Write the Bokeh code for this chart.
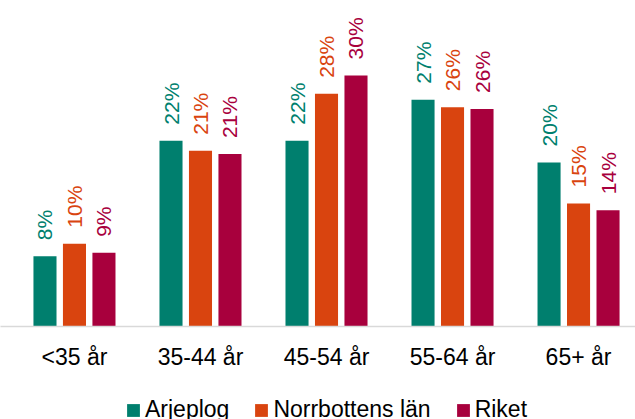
import numpy as np
from bokeh.plotting import figure
from bokeh.layouts import column
from bokeh.models import ColumnDataSource, FixedTicker, Legend, LegendItem, Range1d
from bokeh.core.properties import value
from bokeh.embed import file_html
from bokeh.resources import INLINE

categories = ["<35 år", "35-44 år", "45-54 år", "55-64 år", "65+ år"]
series = ["Arjeplog", "Norrbottens län", "Riket"]
arjeplog = [8.4, 22.2, 22.2, 27.1, 19.6]
norrbotten = [9.9, 21.0, 27.8, 26.2, 14.7]
riket = [8.8, 20.6, 30.0, 26.0, 13.9]
values_by_series = [arjeplog, norrbotten, riket]
colors = ["#007F6E", "#D9440F", "#A8003D"]

FONT = "Liberation Sans"

p = figure(width=635, height=372, output_backend="svg", toolbar_location=None,
           x_range=Range1d(-0.587, 4.452), y_range=Range1d(0, 38.95),
           y_axis_location=None,
           min_border_left=0, min_border_right=0, min_border_top=0,
           min_border_bottom=46)
p.outline_line_color = None
p.xgrid.grid_line_color = None
p.ygrid.grid_line_color = None
p.background_fill_color = "white"
p.border_fill_color = "white"

offset = 0.234
bar_w = 0.183
sources = []
for i, (name, vals, col) in enumerate(zip(series, values_by_series, colors)):
    xs = [j + (i - 1) * offset for j in range(len(categories))]
    src = ColumnDataSource(dict(x=xs, top=vals,
                                label=[f"{round(v)}%" for v in vals]))
    sources.append(src)
    p.vbar(x="x", top="top", width=bar_w, color=col, line_color=None, source=src)
    p.text(x="x", y="top", text="label", angle=np.pi / 2, text_align="left",
           text_baseline="middle", y_offset=-16, text_color=col,
           text_font=value(FONT), text_font_size="21px", source=src)

ax = p.xaxis[0]
ax.ticker = FixedTicker(ticks=list(range(len(categories))))
ax.major_label_overrides = {i: c for i, c in enumerate(categories)}
ax.major_label_text_font = FONT
ax.major_label_text_font_size = "23px"
ax.major_label_text_color = "black"
ax.major_tick_line_color = None
ax.minor_tick_line_color = None
ax.axis_line_color = "#D9D9D9"
ax.axis_line_width = 1.5
ax.major_label_standoff = 11

# legend strip (its bars reuse the series data but lie below its view)
pl = figure(width=635, height=47, output_backend="svg", toolbar_location=None,
            x_range=Range1d(-0.587, 4.452), y_range=Range1d(40, 41),
            x_axis_location=None, y_axis_location=None,
            min_border_left=0, min_border_right=0, min_border_top=0,
            min_border_bottom=0)
pl.outline_line_color = None
pl.xgrid.grid_line_color = None
pl.ygrid.grid_line_color = None
pl.background_fill_color = "white"
pl.border_fill_color = "white"

items = []
for name, col, src in zip(series, colors, sources):
    r = pl.vbar(x="x", top="top", width=bar_w, color=col, line_color=None, source=src)
    items.append(LegendItem(label=name, renderers=[r]))

legend = Legend(items=items, orientation="horizontal", location=(125, -4),
                label_text_font=FONT, label_text_font_size="23px",
                label_text_color="black",
                glyph_width=16, glyph_height=16, label_standoff=4, spacing=24,
                padding=0, margin=0, border_line_color=None,
                background_fill_alpha=0)
pl.add_layout(legend, "center")

open("out.html", "w").write(file_html(column(p, pl, spacing=0), INLINE))
